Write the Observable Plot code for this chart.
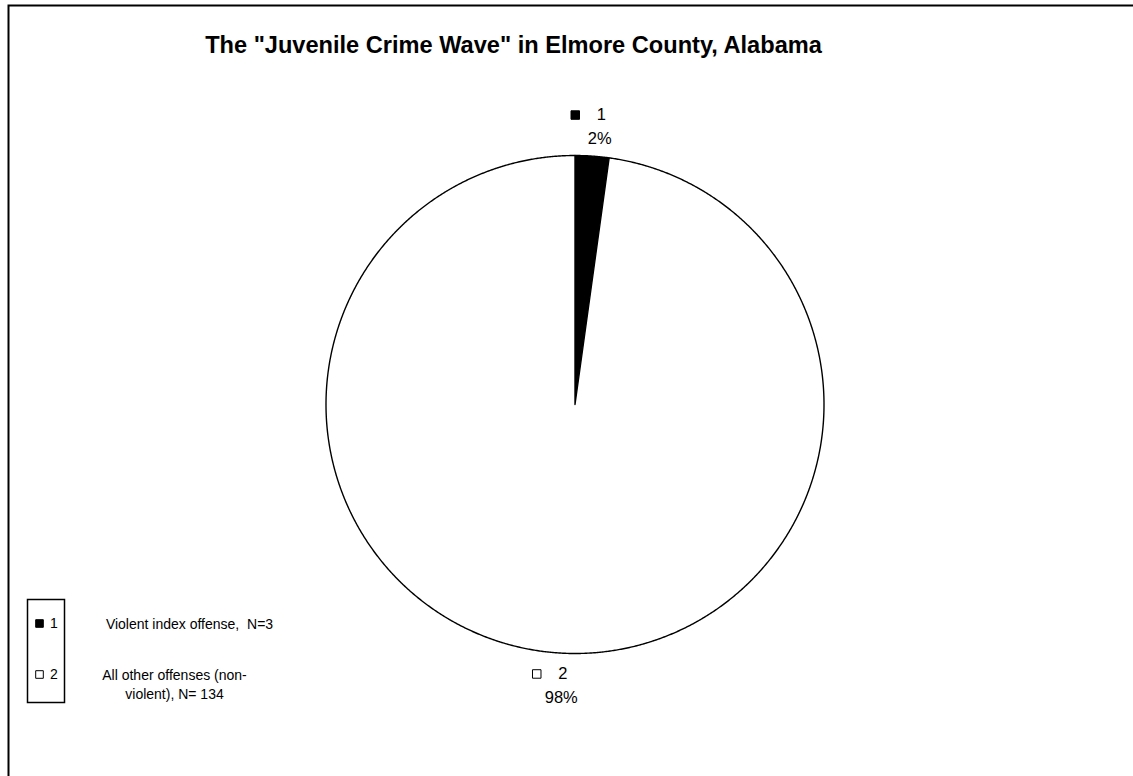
<!DOCTYPE html>
<html><head><meta charset="utf-8">
<script src="https://cdn.jsdelivr.net/npm/d3@7"></script>
<script src="https://cdn.jsdelivr.net/npm/@observablehq/plot@0.6"></script>
<style>body{margin:0;background:#fff;} svg{font-family:"Liberation Sans",Arial,sans-serif;}</style>
</head><body><div id="chart"></div>
<script>
const title = 'The "Juvenile Crime Wave" in Elmore County, Alabama';
const categories = ["1", "2"];
const descriptions = ["Violent index offense,\u00a0 N=3", "All other offenses (non-\nviolent), N= 134"];
const counts = [3, 134];
const fills = ["black", "white"];

// layout
const W = 1133, H = 776, CX = 574.5, CY = 404, R = 249;
const legendRowY = [623, 674];
const legendTextX = [189, 174];
const legendTextY = [622, 682.5];

const total = d3.sum(counts);
const arcs = d3.pie().sort(null).value(d => d)(counts);
const slices = arcs.map((a, i) => {
  const pts = [{x: 0, y: 0}];
  const n = Math.max(2, Math.ceil((a.endAngle - a.startAngle) / 0.005));
  for (let k = 0; k <= n; k++) {
    const t = a.startAngle + (a.endAngle - a.startAngle) * k / n;
    pts.push({x: Math.sin(t), y: Math.cos(t)});
  }
  return pts;
});
const labels = arcs.map((a, i) => {
  const m = (a.startAngle + a.endAngle) / 2;
  return {x: 1.125 * Math.sin(m), y: 1.125 * Math.cos(m), cat: categories[i],
          pct: Math.round(counts[i] / total * 100) + "%", fill: fills[i]};
});

const marks = [
  Plot.frame({insetLeft: 8, insetTop: 5, insetRight: -10, insetBottom: -10, stroke: "black", strokeWidth: 2}),
  ...slices.map((pts, i) => Plot.line(pts, {x: "x", y: "y", fill: fills[i], stroke: "black", strokeWidth: 1.4, curve: "linear-closed"})),
  Plot.text([title], {frameAnchor: "top-left", dx: 513, dy: 44.5, text: d => d, fontSize: 23.6, fontWeight: "bold", textAnchor: "middle", lineAnchor: "middle"}),
  Plot.dot(labels, {x: "x", y: "y", dx: -19, dy: -10, symbol: "square", r: 4.8, fill: "fill", stroke: "black", strokeWidth: 1}),
  Plot.text(labels, {x: "x", y: "y", text: "cat", dx: 7, dy: -10, fontSize: 16.5}),
  Plot.text(labels, {x: "x", y: "y", text: "pct", dx: 5.5, dy: 13.5, fontSize: 16.5}),
  Plot.frame({insetLeft: 27, insetTop: 599, insetRight: W - 64, insetBottom: H - 702, stroke: "black", strokeWidth: 1.5}),
  ...categories.flatMap((c, i) => [
    Plot.dot([c], {frameAnchor: "top-left", dx: 39, dy: legendRowY[i], symbol: "square", r: 4.3, fill: fills[i], stroke: "black", strokeWidth: 1}),
    Plot.text([c], {frameAnchor: "top-left", dx: 53.5, dy: legendRowY[i] + 0.5, text: d => d, fontSize: 14, textAnchor: "middle", lineAnchor: "middle"}),
    Plot.text([descriptions[i]], {frameAnchor: "top-left", dx: legendTextX[i], dy: legendTextY[i], text: d => d, fontSize: 14, lineHeight: 1.38, textAnchor: "middle", lineAnchor: "middle"})
  ])
];

const chart = Plot.plot({
  width: W, height: H, margin: 0,
  x: {domain: [-1, 1], range: [CX - R, CX + R], axis: null},
  y: {domain: [-1, 1], range: [CY + R, CY - R], axis: null},
  color: {type: "identity"},
  style: {fontFamily: '"Liberation Sans", Arial, sans-serif', background: "white", color: "black"},
  marks
});
document.getElementById("chart").appendChild(chart);
</script>
</body></html>
